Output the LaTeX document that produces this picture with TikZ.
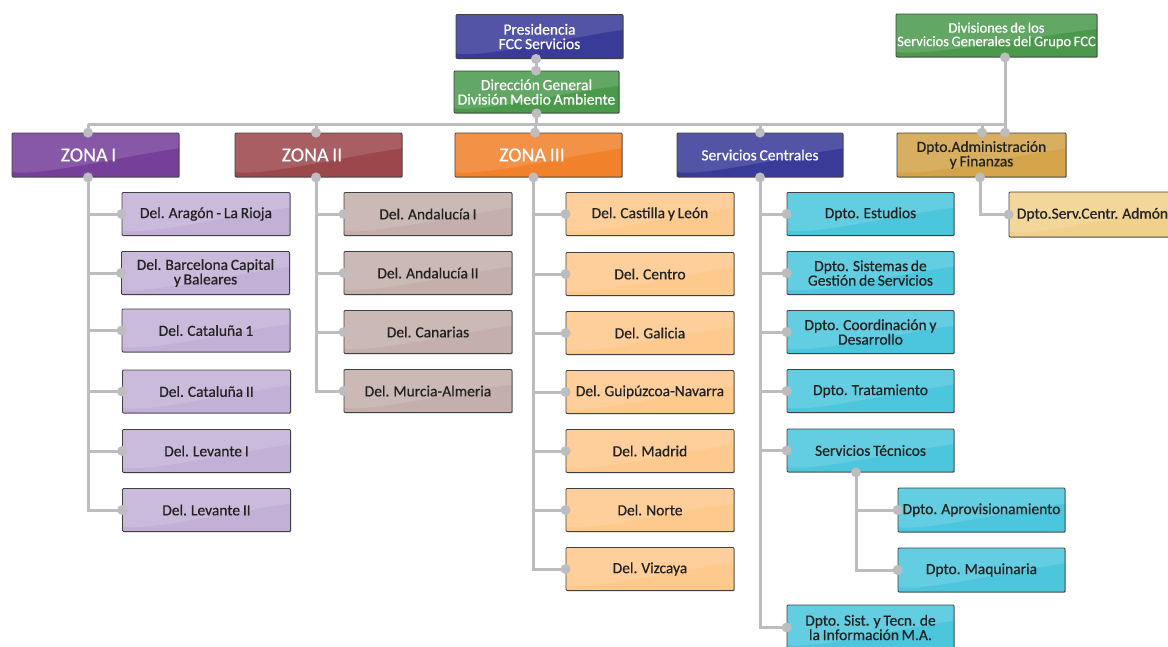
\documentclass[tikz,border=0pt]{standalone}
\usepackage{fontspec}
\setmainfont{Carlito}[FakeBold=0.6,WordSpace=0.8]
\usetikzlibrary{calc,shadows}
\definecolor{cblue}{HTML}{3A3B98}
\definecolor{cgreen}{HTML}{4B9A4C}
\definecolor{czone1}{HTML}{76409A}
\definecolor{czone2}{HTML}{9C474B}
\definecolor{czone3}{HTML}{F2812B}
\definecolor{cadmin}{HTML}{D3A449}
\definecolor{lpurple}{HTML}{C3B0D6}
\definecolor{lrose}{HTML}{C4AFAC}
\definecolor{lorange}{HTML}{FEC98C}
\definecolor{ccyan}{HTML}{4CC6DD}
\definecolor{lgold}{HTML}{F1D08B}
\definecolor{lgray}{HTML}{BDBDC0}
\definecolor{txt}{HTML}{222222}
\tikzset{
  gloss/.style={path picture={
    \fill[white,opacity=0.13] (path picture bounding box.north west) -- (path picture bounding box.north east)
      -- ($(path picture bounding box.north east)!0.35!(path picture bounding box.south east)$)
      .. controls ($(path picture bounding box.center)!0.4!(path picture bounding box.east)$) and ($(path picture bounding box.south west)!0.3!(path picture bounding box.south)$)
      .. ($(path picture bounding box.south west)!0.12!(path picture bounding box.north west)$) -- cycle;}},
  box/.style={draw=black!75, line width=0.8pt, rounded corners=1pt, align=center, inner sep=1pt,
    drop shadow={shadow xshift=0.8pt, shadow yshift=-0.8pt, opacity=0.3, fill=black}, gloss},
  hdr/.style={box, minimum width=167pt, minimum height=44pt, text=white, font=\fontsize{15.5}{14.5}\selectfont},
  zone/.style={hdr, font=\fontsize{20}{20}\selectfont},
  sub/.style={box, minimum width=168pt, minimum height=43pt, text=txt, font=\fontsize{15.5}{14.5}\selectfont},
  conn/.style={draw=lgray, line width=3pt},
  dot/.style={fill=lgray},
}
\begin{document}
\begin{tikzpicture}[x=1pt,y=-1pt]
\useasboundingbox (0,0) rectangle (1168,646);
\clip (0,0) rectangle (1168,646);
% top
\node[hdr, fill=cblue] (pres) at (539.5,36.5) {Presidencia\\FCC Servicios};
\node[hdr, fill=cgreen, minimum width=165pt, minimum height=42pt] (dg) at (536.5,92) {Dirección General\\División Medio Ambiente};
\node[hdr, fill=cgreen, minimum width=201pt, minimum height=43pt, font=\fontsize{14.5}{13.5}\selectfont] (divs) at (996.5,35.5) {Divisiones de los\\Servicios Generales del Grupo FCC};
% zones
\node[zone, fill=czone1] (z1) at (95.5,155) {\hspace*{-14pt}ZONA I};
\node[zone, fill=czone2] (z2) at (318.5,155) {\hspace*{-13pt}ZONA II};
\node[zone, fill=czone3] (z3) at (538.5,155) {\hspace*{-13pt}ZONA III};
\node[hdr, fill=cblue, minimum width=166pt] (sc) at (760,155) {Servicios Centrales};
\node[hdr, fill=cadmin, text=txt, minimum width=169pt] (adm) at (981.5,155) {Dpto.Administración\\y Finanzas};
% zona I children
\node[sub, fill=lpurple] (a1) at (206,214) {Del. Aragón - La Rioja};
\node[sub, fill=lpurple] (a2) at (205.5,273) {Del. Barcelona Capital\\y Baleares};
\node[sub, fill=lpurple] (a3) at (206,330.5) {Del. Cataluña 1};
\node[sub, fill=lpurple] (a4) at (206.5,391.5) {Del. Cataluña II};
\node[sub, fill=lpurple] (a5) at (206.5,451) {Del. Levante I};
\node[sub, fill=lpurple] (a6) at (206.5,510) {Del. Levante II};
% zona II children
\node[sub, fill=lrose] (b1) at (428,214) {Del. Andalucía I};
\node[sub, fill=lrose] (b2) at (428,273) {Del. Andalucía II};
\node[sub, fill=lrose] (b3) at (428,332) {Del. Canarias};
\node[sub, fill=lrose] (b4) at (428,391) {Del. Murcia-Almeria};
% zona III children
\node[sub, fill=lorange] (c1) at (650,214) {Del. Castilla y León};
\node[sub, fill=lorange] (c2) at (650,274) {Del. Centro};
\node[sub, fill=lorange] (c3) at (650,333) {Del. Galicia};
\node[sub, fill=lorange] (c4) at (650,392) {Del. Guipúzcoa-Navarra};
\node[sub, fill=lorange] (c5) at (650,451) {Del. Madrid};
\node[sub, fill=lorange] (c6) at (650,510) {Del. Norte};
\node[sub, fill=lorange] (c7) at (650,569) {Del. Vizcaya};
% servicios centrales children
\node[sub, fill=ccyan, minimum width=167pt] (d1) at (870.5,214) {Dpto. Estudios};
\node[sub, fill=ccyan, minimum width=167pt] (d2) at (870.5,273) {Dpto. Sistemas de\\Gestión de Servicios};
\node[sub, fill=ccyan, minimum width=167pt] (d3) at (870.5,332) {Dpto. Coordinación y\\Desarrollo};
\node[sub, fill=ccyan, minimum width=167pt] (d4) at (870.5,391) {Dpto. Tratamiento};
\node[sub, fill=ccyan, minimum width=167pt] (d5) at (870.5,450.5) {Servicios Técnicos};
\node[sub, fill=ccyan, minimum width=167pt, minimum height=44pt] (e1) at (981.5,510) {Dpto. Aprovisionamiento};
\node[sub, fill=ccyan, minimum width=167pt, minimum height=44pt] (e2) at (981.5,570) {Dpto. Maquinaria};
\node[sub, fill=ccyan, minimum width=167pt, minimum height=45pt] (d6) at (870.5,627.5) {Dpto. Sist. y Tecn. de\\la Información M.A.};
% admin child
\node[sub, fill=lgold, minimum width=167pt, minimum height=45pt] (f1) at (1092.5,214.5) {Dpto.Serv.Centr. Admón};
% named points
\coordinate (busL) at (88,124);
\coordinate (busR) at (1005,124);
\coordinate (presb) at ([xshift=-3.5pt]pres.south);
\coordinate (dgt) at ([xshift=-0.5pt]dg.north);
\coordinate (divb) at ([xshift=8.5pt]divs.south);
\coordinate (z1t) at ([xshift=-7.5pt]z1.north);
\coordinate (z1b) at ([xshift=-7.5pt]z1.south);
\coordinate (z2t) at ([xshift=-2.5pt]z2.north);
\coordinate (z2b) at ([xshift=-2.5pt]z2.south);
\coordinate (z3t) at ([xshift=-3.5pt]z3.north);
\coordinate (z3b) at ([xshift=-5pt]z3.south);
\coordinate (admt) at ([xshift=0.5pt]adm.north);
\coordinate (admt2) at (divb |- adm.north);
\coordinate (admb) at ([xshift=-1.5pt]adm.south);
\coordinate (d5b) at ([xshift=-14.5pt]d5.south);
% connectors
\draw[conn] (presb) -- (dgt);
\draw[conn] (dg.south) -- (dg.south |- busL);
\draw[conn] (busL) -- (busR);
\draw[conn] (divb) -- (admt2);
\draw[conn] (z1t) -- (z1t |- busL);
\draw[conn] (z2t) -- (z2t |- busL);
\draw[conn] (z3t) -- (z3t |- busL);
\draw[conn] (sc.north) -- (sc.north |- busL);
\draw[conn] (admt) -- (admt |- busL);
\foreach \n in {a1,a2,a3,a4,a5,a6} \draw[conn] (z1b) |- (\n.west);
\foreach \n in {b1,b2,b3,b4} \draw[conn] (z2b) |- (\n.west);
\foreach \n in {c1,c2,c3,c4,c5,c6,c7} \draw[conn] (z3b) |- (\n.west);
\foreach \n in {d1,d2,d3,d4,d5,d6} \draw[conn] (sc.south) |- (\n.west);
\foreach \n in {e1,e2} \draw[conn] (d5b) |- (\n.west);
\draw[conn] (admb) |- (f1.west);
% dots
\foreach \p in {presb,dgt,dg.south,divb,z1t,z1b,z2t,z2b,z3t,z3b,sc.north,sc.south,admt,admt2,admb,d5b,
  a1.west,a2.west,a3.west,a4.west,a5.west,a6.west,b1.west,b2.west,b3.west,b4.west,
  c1.west,c2.west,c3.west,c4.west,c5.west,c6.west,c7.west,
  d1.west,d2.west,d3.west,d4.west,d5.west,d6.west,e1.west,e2.west,f1.west}
  \fill[dot] (\p) circle (5pt);
\end{tikzpicture}
\end{document}
